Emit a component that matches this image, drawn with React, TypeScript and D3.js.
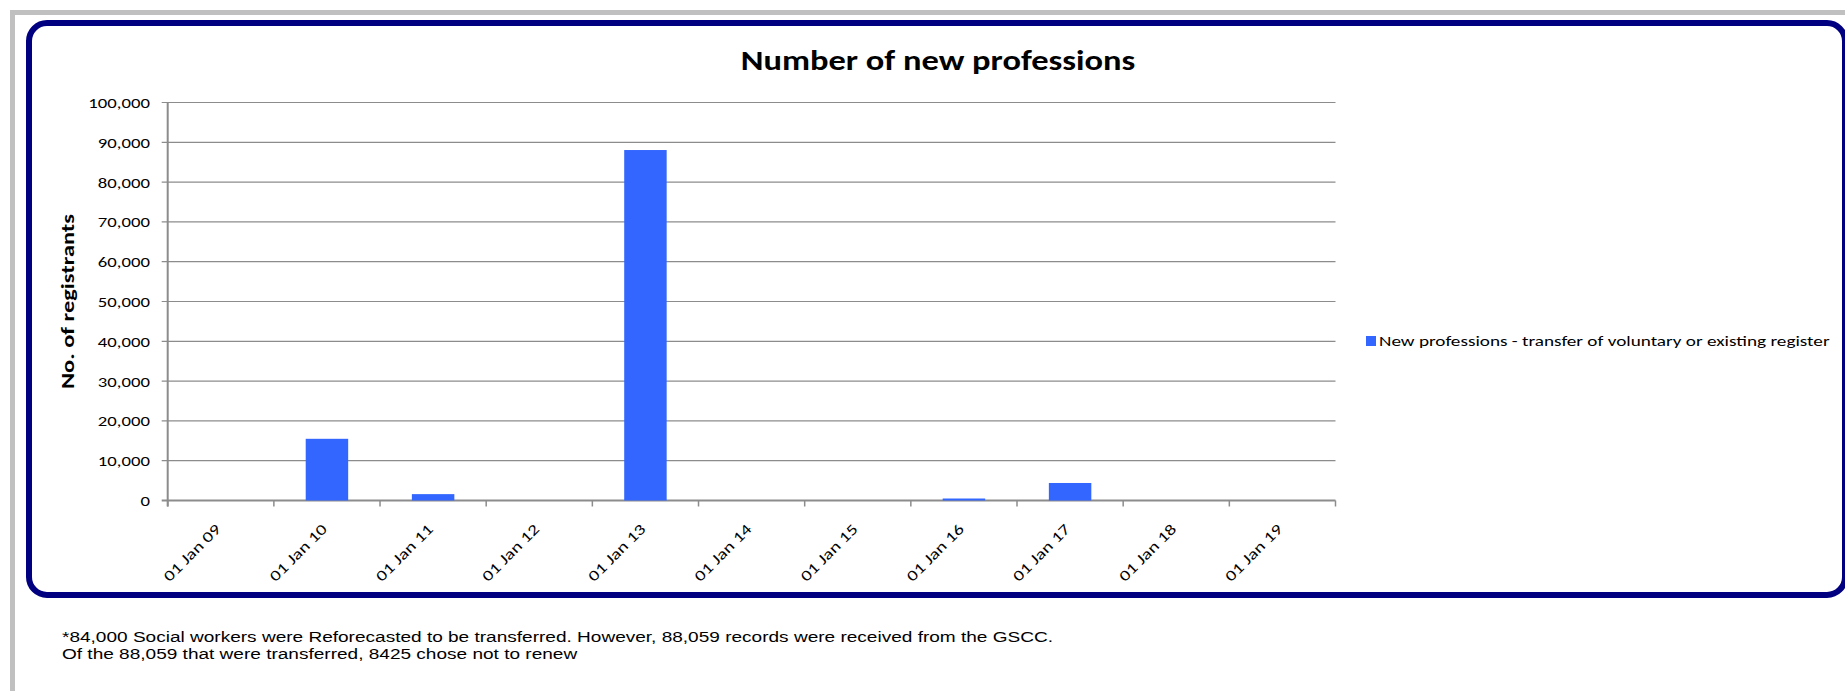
import React from "react";
import * as d3 from "d3";

const categories = [
  "01 Jan 09", "01 Jan 10", "01 Jan 11", "01 Jan 12", "01 Jan 13", "01 Jan 14",
  "01 Jan 15", "01 Jan 16", "01 Jan 17", "01 Jan 18", "01 Jan 19",
];
const values = [0, 15500, 1600, 0, 88059, 0, 0, 500, 4400, 0, 0];
const yTicks = [0, 10000, 20000, 30000, 40000, 50000, 60000, 70000, 80000, 90000, 100000];
const seriesName = "New professions - transfer of voluntary or existing register";
const chartTitle = "Number of new professions";
const yTitle = "No. of registrants";
const footnotes = [
  "*84,000 Social workers were Reforecasted to be transferred. However, 88,059 records were received from the GSCC.",
  "Of the 88,059 that were transferred, 8425 chose not to renew",
];

const W = 1845;
const H = 691;
const plot = { left: 167.7, right: 1335.5, top: 102.5, bottom: 500.5 };
const FONT = "Carlito, Calibri, Lato, sans-serif";
const BAR = "#3366FF";
const GRID = "#8c8c8c";
const SX = 1.25; // horizontal glyph stretch of the reference's text

export default function App() {
  const x = d3.scaleBand<string>().domain(categories).range([plot.left, plot.right]).paddingInner(0.6).paddingOuter(0.3);
  const band = d3.scaleBand<string>().domain(categories).range([plot.left, plot.right]);
  const y = d3.scaleLinear().domain([0, 100000]).range([plot.bottom, plot.top]);
  const fmt = d3.format(",");
  const step = band.step();

  return (
    <svg width={W} height={H} style={{ position: "absolute", left: 0, top: 0, display: "block" }}>
      <rect x={0} y={0} width={W} height={H} fill="#ffffff" />
      {/* page frame */}
      <rect x={12.5} y={12.5} width={W + 20} height={H + 20} fill="none" stroke="#c0c0c0" strokeWidth={5} />
      {/* chart box */}
      <rect x={29} y={23} width={1816} height={572} rx={18} ry={18} fill="#ffffff" stroke="#000080" strokeWidth={6} />

      <g transform={`translate(938,70) scale(1.23,1)`}>
        <text x={0} y={0} textAnchor="middle" fontFamily={FONT} fontWeight="bold" fontSize={28} fill="#000">
          {chartTitle}
        </text>
      </g>

      {/* gridlines */}
      {yTicks.map((t) => (
        <line key={"g" + t} x1={plot.left - 6} x2={plot.right} y1={y(t)} y2={y(t)} stroke={GRID} strokeWidth={t === 0 ? 2 : 1.2} />
      ))}
      {/* y labels */}
      {yTicks.map((t) => (
        <g key={"yl" + t} transform={`translate(150,${y(t)}) scale(${SX},1)`}>
          <text x={0} y={0} dy="0.36em" textAnchor="end" fontFamily={FONT} fontSize={15} fill="#000">
            {fmt(t)}
          </text>
        </g>
      ))}
      {/* y axis */}
      <line x1={plot.left} x2={plot.left} y1={plot.top} y2={plot.bottom + 6} stroke={GRID} strokeWidth={2} />
      {/* x ticks */}
      {d3.range(categories.length + 1).map((i) => {
        const xx = plot.left + i * step;
        return <line key={"xt" + i} x1={xx} x2={xx} y1={plot.bottom} y2={plot.bottom + 6} stroke={GRID} strokeWidth={1.5} />;
      })}
      {/* bars */}
      {values.map((v, i) => (
        <rect
          key={"b" + i}
          x={x(categories[i])!}
          width={x.bandwidth()}
          y={y(v)}
          height={plot.bottom - y(v)}
          fill={BAR}
        />
      ))}
      {/* x labels */}
      {categories.map((c) => {
        const cx = band(c)! + step / 2 + 1;
        const cy = 530;
        return (
          <g key={"xl" + c} transform={`translate(${cx},${cy}) rotate(-45) scale(1.3,1)`}>
            <text x={0} y={0} textAnchor="end" fontFamily={FONT} fontSize={15} fill="#000">
              {c}
            </text>
          </g>
        );
      })}

      {/* y title */}
      <g transform={`translate(74,301.5) rotate(-90) scale(1.32,1)`}>
        <text x={0} y={0} textAnchor="middle" fontFamily={FONT} fontWeight="bold" fontSize={18.5} fill="#000">
          {yTitle}
        </text>
      </g>

      {/* legend */}
      <rect x={1366} y={336} width={10} height={10} fill={BAR} />
      <g transform={`translate(1379,346) scale(1.28,1)`}>
        <text x={0} y={0} fontFamily={FONT} fontSize={15} fill="#000">
          {seriesName}
        </text>
      </g>

      {/* footnotes */}
      {footnotes.map((f, i) => (
        <g key={"fn" + i} transform={`translate(62,${642 + i * 17}) scale(1.27,1)`}>
          <text x={0} y={0} fontFamily="'Liberation Sans', Arial, sans-serif" fontSize={15} fill="#000">
            {f}
          </text>
        </g>
      ))}
    </svg>
  );
}
